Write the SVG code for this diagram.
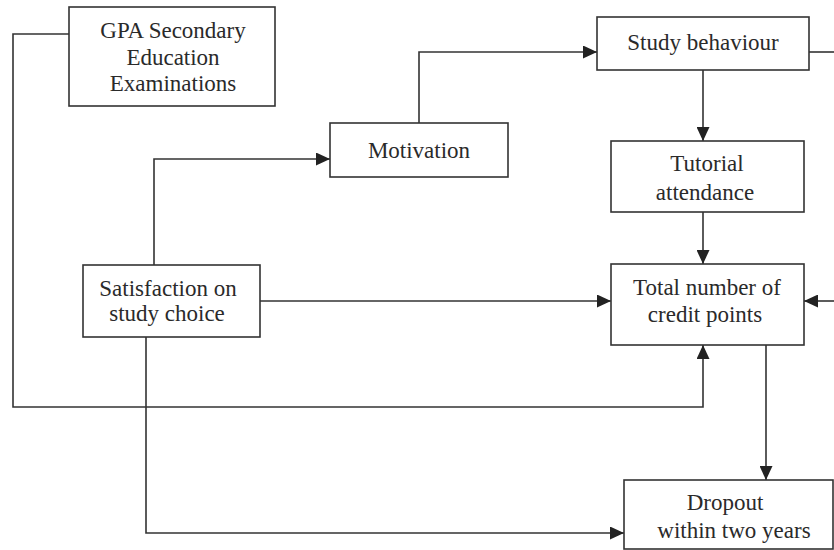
<svg xmlns="http://www.w3.org/2000/svg" width="834" height="550" viewBox="0 0 834 550">
  <defs>
    <marker id="arrow" markerUnits="userSpaceOnUse" markerWidth="14" markerHeight="13" refX="14" refY="6.5" orient="auto">
      <path d="M0,0 L14,6.5 L0,13 Z" fill="#222"/>
    </marker>
  </defs>
  <style>
    .box { fill: #fff; stroke: #333; stroke-width: 1.6; }
    .lbl { font-family: "Liberation Serif", "Times New Roman", serif; font-size: 23px; fill: #2a2a2a; text-anchor: middle; }
    .edge { fill: none; stroke: #333; stroke-width: 1.6; }
    .arr { marker-end: url(#arrow); }
  </style>
  <rect width="834" height="550" fill="#fff"/>

  <!-- connectors -->
  <g id="connectors">
    <path class="edge arr" d="M419,123 V52 H597"/>
    <path class="edge arr" d="M154,265 V159 H330"/>
    <path class="edge arr" d="M703,70 V141"/>
    <path class="edge arr" d="M703,212 V264"/>
    <path class="edge arr" d="M260,301 H611"/>
    <path class="edge arr" d="M834,301 H804"/>
    <path class="edge" d="M809,52 H834"/>
    <path class="edge arr" d="M69,34 H13 V407 H703 V345"/>
    <path class="edge arr" d="M146,337 V533 H624"/>
    <path class="edge arr" d="M766,345 V480"/>
  </g>

  <!-- nodes -->
  <g id="gpa">
    <rect class="box" x="69" y="7" width="206" height="99"/>
    <text class="lbl" x="173" y="38">GPA Secondary</text>
    <text class="lbl" x="173" y="64.5">Education</text>
    <text class="lbl" x="173" y="91">Examinations</text>
  </g>
  <g id="study-behaviour">
    <rect class="box" x="597" y="17" width="212" height="53"/>
    <text class="lbl" x="703" y="50">Study behaviour</text>
  </g>
  <g id="motivation">
    <rect class="box" x="330" y="123" width="178" height="54"/>
    <text class="lbl" x="419" y="158">Motivation</text>
  </g>
  <g id="tutorial-attendance">
    <rect class="box" x="611" y="141" width="193" height="71"/>
    <text class="lbl" x="707" y="171">Tutorial</text>
    <text class="lbl" x="705" y="200">attendance</text>
  </g>
  <g id="satisfaction">
    <rect class="box" x="83" y="265" width="177" height="72"/>
    <text class="lbl" x="168" y="296">Satisfaction on</text>
    <text class="lbl" x="167" y="321">study choice</text>
  </g>
  <g id="credit-points">
    <rect class="box" x="611" y="264" width="193" height="81"/>
    <text class="lbl" x="707" y="295">Total number of</text>
    <text class="lbl" x="705" y="322">credit points</text>
  </g>
  <g id="dropout">
    <rect class="box" x="624" y="480" width="209" height="69"/>
    <text class="lbl" x="725" y="510">Dropout</text>
    <text class="lbl" x="734" y="538">within two years</text>
  </g>
</svg>
